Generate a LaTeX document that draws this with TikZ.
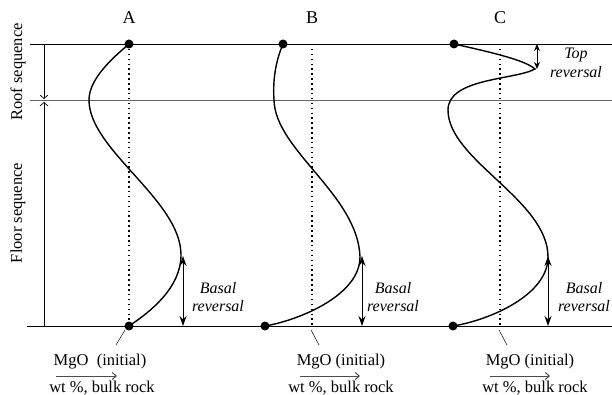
\documentclass[tikz,border=0pt]{standalone}
\usepackage{fontspec}
\setmainfont{Liberation Serif}
\usetikzlibrary{arrows.meta}
\tikzset{
	txt/.style={font=\fontsize{16.5}{19}\selectfont,inner sep=0pt},
	head/.style={font=\fontsize{18}{20}\selectfont,inner sep=0pt},
	rev/.style={txt,font=\fontsize{16}{18.5}\selectfont\itshape,align=center},
	dot/.style={circle,fill,inner sep=0pt,minimum size=9pt},
	profile/.style={line width=1.4pt},
	guide/.style={line width=1.5pt,dash pattern=on 1.5pt off 3.4pt},
	revarrow/.style={line width=0.9pt,{Stealth[length=10pt,width=7pt]}-{Stealth[length=10pt,width=7pt]}},
	toparrow/.style={line width=0.9pt,{Stealth[length=7pt,width=6pt]}-{Stealth[length=7pt,width=6pt]}},
	seqarrow/.style={line width=0.7pt,-{Straight Barb[length=3.5pt,width=8pt]}},
	mgoarrow/.style={line width=1pt,gray!60!black,-{Straight Barb[length=4pt,width=7pt]}},
}
\begin{document}
\begin{tikzpicture}[x=1pt,y=-1pt]
		\useasboundingbox (0,0) rectangle (612,395);
		%horizons
		\coordinate (topL) at (30,44);
		\coordinate (topR) at (612,44);
		\coordinate (midL) at (30,100);
		\coordinate (midR) at (612,100);
		\coordinate (botL) at (27,326);
		\coordinate (botR) at (612,326);
		\draw[line width=0.9pt] (topL) -- (topR);
		\draw[line width=0.9pt,gray!80!black] (midL) -- (midR);
		\draw[line width=0.9pt] (botL) -- (botR);
		
		%sequence axis
		\coordinate (seqtop) at (44,44);
		\coordinate (seqmid1) at (44,99);
		\coordinate (seqmid2) at (44,102);
		\coordinate (seqbot) at (44,326);
		\draw[seqarrow] (seqtop) -- (seqmid1);
		\draw[seqarrow] (seqbot) -- (seqmid2);
		\node[txt,rotate=90] (roof) at (18,72){Roof sequence};
		\node[txt,rotate=90] (floor) at (18,213){Floor sequence};
		
		%initial MgO
		\foreach \x/\name in {129/A, 312/B, 500/C}{
			\coordinate (\name top) at (\x,44);
			\coordinate (\name bot) at (\x,326);
			\draw[guide] (\name top) -- (\name bot);
			\node[head] (\name) at (\x,18){\name};
		}
		
		%profiles
		\node[dot] (Adottop) at (129,44){};
		\node[dot] (Adotbot) at (129,326){};
		\draw[profile] (Adottop.center) .. controls (110,60) and (89,80) .. (89,100)
			.. controls (89,150) and (181,200) .. (181,255)
			.. controls (181,288) and (150,312) .. (Adotbot.center);
		
		\node[dot] (Bdottop) at (283,44){};
		\node[dot] (Bdotbot) at (265,326){};
		\draw[profile] (Bdottop.center) .. controls (274,65) and (273,85) .. (274,100)
			.. controls (275,150) and (358,195) .. (360,257)
			.. controls (360,295) and (300,320) .. (Bdotbot.center);
		
		\node[dot] (Cdottop) at (454,44){};
		\node[dot] (Cdotbot) at (453,326){};
		\draw[profile] (Cdottop.center) .. controls (490,52) and (525,60) .. (535,69)
			.. controls (515,80) and (448,78) .. (448,110)
			.. controls (448,160) and (548,200) .. (548,257)
			.. controls (548,295) and (490,320) .. (Cdotbot.center);
		
		%reversals
		\foreach \x/\n/\lx in {183/A/218, 362/B/393, 548/C/584}{
			\coordinate (\n revtop) at (\x,256);
			\coordinate (\n revbot) at (\x,326);
			\draw[revarrow] (\n revtop) -- (\n revbot);
			\node[rev] (\n basal) at (\lx,297){Basal\\reversal};
		}
		\coordinate (Ctoptop) at (537,44);
		\coordinate (Ctopbot) at (537,69);
		\draw[toparrow] (Ctoptop) -- (Ctopbot);
		\node[rev] (Ctoprev) at (576,63){Top\\reversal};
		
		%MgO labels
		\node[txt] (Amgo) at (100,362){MgO\ \ (initial)};
		\node[txt] (Bmgo) at (341,362){MgO (initial)};
		\node[txt] (Cmgo) at (530,362){MgO (initial)};
		\foreach \n/\a/\b/\w/\s/\t in {A/56/117/102/125/116, B/300/360/341/311/319, C/490/550/535/499/507}{
			\coordinate (\n slA) at (\s,330);
			\coordinate (\n slB) at (\t,345);
			\draw[line width=0.5pt] (\n slA) -- (\n slB);
			\coordinate (\n arA) at (\a,376);
			\coordinate (\n arB) at (\b,376);
			\draw[mgoarrow] (\n arA) -- (\n arB);
			\node[txt] (\n wt) at (\w,388){wt \%, bulk rock};
		}
\end{tikzpicture}
\end{document}
